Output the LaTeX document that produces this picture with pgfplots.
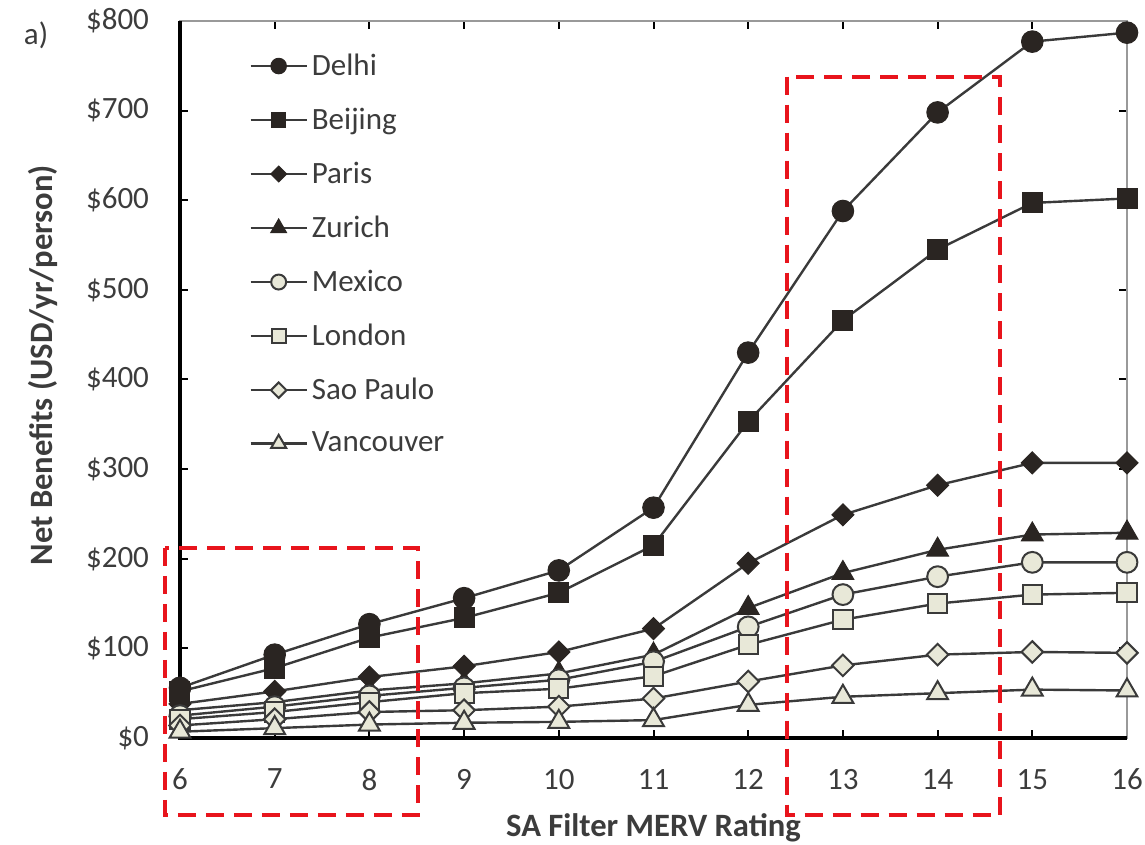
\documentclass[border=0pt]{standalone}
\usepackage{fontspec}
\setmainfont{Carlito}
\usepackage{pgfplots}
\pgfplotsset{compat=1.18}
\definecolor{dk}{HTML}{2A2522}
\definecolor{ln}{HTML}{3A3A3A}
\definecolor{lt}{HTML}{E8E8D8}
\definecolor{txt}{HTML}{3C3C3C}
\definecolor{rd}{HTML}{E8141C}
\begin{document}
\begin{tikzpicture}
\begin{axis}[
  scale only axis, width=473.5pt, height=358.5pt,
  xmin=6, xmax=16, ymin=0, ymax=800,
  xtick={6,...,16}, xticklabels={6,7,8,9,10,11,12,13,14,15,16},
  ytick={0,100,...,800},
  yticklabels={\$0,\$100,\$200,\$300,\$400,\$500,\$600,\$700,\$800},
  tick align=inside, major tick length=4pt,
  tick style={black, line width=1pt},
  axis line style={draw=gray!80, line width=1pt},
  ticklabel style={font=\fontsize{15.5}{18}\selectfont, text=txt},
  xticklabel style={yshift=-12pt},
  yticklabel style={xshift=-12pt},
  xlabel={SA Filter MERV Rating},
  ylabel={Net Benefits (USD/yr/person)},
  label style={font=\bfseries\fontsize{16.3}{19}\selectfont, text=txt},
  xlabel style={at={(axis description cs:0.5,-0.137)}, anchor=base},
  ylabel style={at={(axis description cs:-0.145,0.52)}, anchor=center},
  clip=false,
  legend cell align=left,
  legend style={at={(0.0666,0.966)}, anchor=north west, draw=none, fill=none,
    font=\fontsize{15.5}{18}\selectfont, text=txt, row sep=10.8pt},
  legend image code/.code={\draw[mark repeat=2,mark phase=2,#1, every mark/.append style={scale=0.72}] plot coordinates {(0pt,0pt) (14pt,0pt) (28pt,0pt)};},
  every axis plot/.append style={line width=1.2pt, color=ln},
]
\addplot[mark=*, mark size=5.4pt, mark options={fill=dk, draw=dk, line width=0.5pt}] coordinates {(6,56) (7,93) (8,127) (9,156) (10,187) (11,257) (12,430) (13,588) (14,698) (15,777) (16,787)};
\addlegendentry{Delhi}
\addplot[mark=square*, mark size=5pt, mark options={fill=dk, draw=dk, line width=0.5pt}] coordinates {(6,52) (7,78) (8,112) (9,134) (10,162) (11,215) (12,353) (13,466) (14,545) (15,597) (16,602)};
\addlegendentry{Beijing}
\addplot[mark=square*, mark size=3.9pt, mark options={fill=dk, draw=dk, line width=0.5pt, rotate=45}] coordinates {(6,38) (7,52) (8,68) (9,80) (10,96) (11,122) (12,195) (13,249) (14,282) (15,307) (16,307)};
\addlegendentry{Paris}
\addplot[mark=triangle*, mark size=6.3pt, mark options={fill=dk, draw=dk, line width=0.5pt}] coordinates {(6,31) (7,40) (8,53) (9,61) (10,72) (11,93) (12,145) (13,184) (14,210) (15,227) (16,229)};
\addlegendentry{Zurich}
\addplot[mark=*, mark size=5.2pt, mark options={fill=lt, draw=ln, line width=1pt}] coordinates {(6,25) (7,35) (8,47) (9,56) (10,65) (11,85) (12,124) (13,160) (14,180) (15,196) (16,196)};
\addlegendentry{Mexico}
\addplot[mark=square*, mark size=4.8pt, mark options={fill=lt, draw=ln, line width=1pt}] coordinates {(6,21) (7,29) (8,40) (9,50) (10,55) (11,69) (12,104) (13,132) (14,150) (15,160) (16,162)};
\addlegendentry{London}
\addplot[mark=square*, mark size=3.8pt, mark options={fill=lt, draw=ln, line width=1pt, rotate=45}] coordinates {(6,14) (7,21) (8,29) (9,31) (10,35) (11,44) (12,63) (13,81) (14,93) (15,96) (16,95)};
\addlegendentry{Sao Paulo}
\addplot[mark=triangle*, mark size=6pt, mark options={fill=lt, draw=ln, line width=1pt}] coordinates {(6,7) (7,11) (8,15) (9,17) (10,18) (11,20) (12,37) (13,46) (14,50) (15,54) (16,53)};
\addlegendentry{Vancouver}
\draw[black, line width=2pt] (rel axis cs:0,1) -- (rel axis cs:0,0) -- (rel axis cs:1,0);
\draw[rd, line width=2pt, dash pattern=on 9pt off 5pt] (axis cs:5.84,212) rectangle (axis cs:8.51,-86);
\draw[rd, line width=2pt, dash pattern=on 9pt off 5pt] (axis cs:12.41,738) rectangle (axis cs:14.66,-86);
\node[font=\fontsize{15.5}{18}\selectfont, text=txt] at (axis description cs:-0.152,0.98) {a)};
\coordinate (bl) at (rel axis cs:0,0);
\end{axis}
\pgfresetboundingbox
\path[use as bounding box] ([shift={(-90pt,-53.5pt)}]bl) rectangle ++(572.5pt,422.5pt);
\end{tikzpicture}
\end{document}
